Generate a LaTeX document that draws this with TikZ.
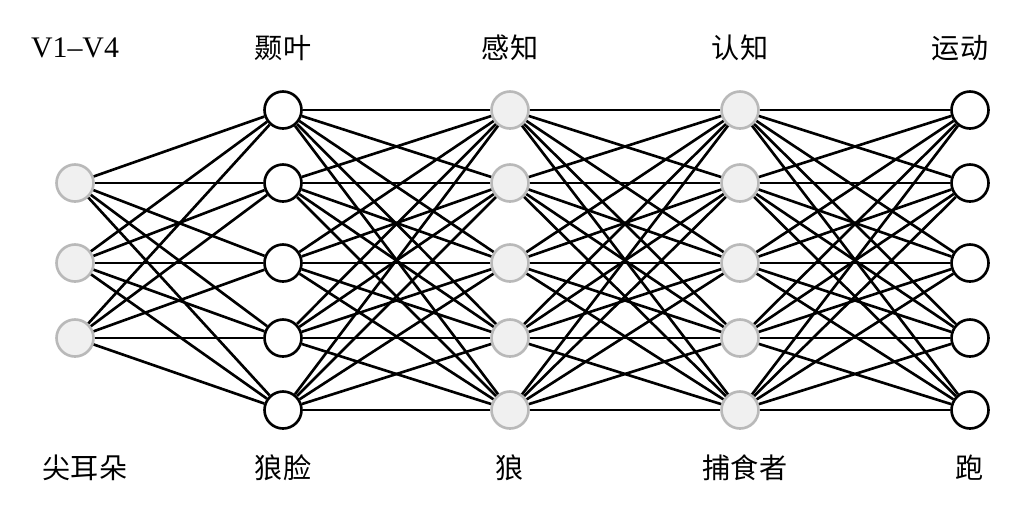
\documentclass[tikz,border=0pt]{standalone}
\usepackage{fontspec}
\setmainfont{Liberation Serif}
\newfontfamily\cjk{Noto Sans CJK SC}
\begin{document}
\begin{tikzpicture}[x=0.02cm,y=-0.02cm,
    graynode/.style={circle, draw=gray!55, fill=gray!12, line width=1.5pt, minimum size=0.74cm, inner sep=0pt},
    whitenode/.style={circle, draw=black, fill=white, line width=1.5pt, minimum size=0.74cm, inner sep=0pt},
    edge/.style={line width=1.5pt},
    lab/.style={font=\cjk\fontsize{16}{18}\selectfont}]
        \useasboundingbox (0,0) rectangle (1030,515);

        % Schichten
        \foreach \y [count=\i] in {183,263,338}
            \node[graynode] (a\i) at (75,\y) {};
        \foreach \y [count=\i] in {110,183,263,338,410} {
            \node[whitenode] (b\i) at (283,\y) {};
            \node[graynode] (c\i) at (510,\y) {};
            \node[graynode] (d\i) at (740,\y) {};
            \node[whitenode] (e\i) at (970,\y) {};
        }

        % Verbindungen
        \foreach \i in {1,2,3}
            \foreach \j in {1,...,5}
                \draw[edge] (a\i) -- (b\j);
        \foreach \i in {1,...,5}
            \foreach \j in {1,...,5} {
                \draw[edge] (b\i) -- (c\j);
                \draw[edge] (c\i) -- (d\j);
                \draw[edge] (d\i) -- (e\j);
            }

        % Beschriftungen oben
        \node[font=\fontsize{17}{19}\selectfont] (t1) at (75,48) {V1--V4};
        \node[lab] (t2) at (283,48) {颞叶};
        \node[lab] (t3) at (510,48) {感知};
        \node[lab] (t4) at (740,48) {认知};
        \node[lab] (t5) at (960,48) {运动};

        % Beschriftungen unten
        \node[lab] (u1) at (85,468) {尖耳朵};
        \node[lab] (u2) at (283,468) {狼脸};
        \node[lab] (u3) at (510,468) {狼};
        \node[lab] (u4) at (745,468) {捕食者};
        \node[lab] (u5) at (970,468) {跑};
\end{tikzpicture}
\end{document}
